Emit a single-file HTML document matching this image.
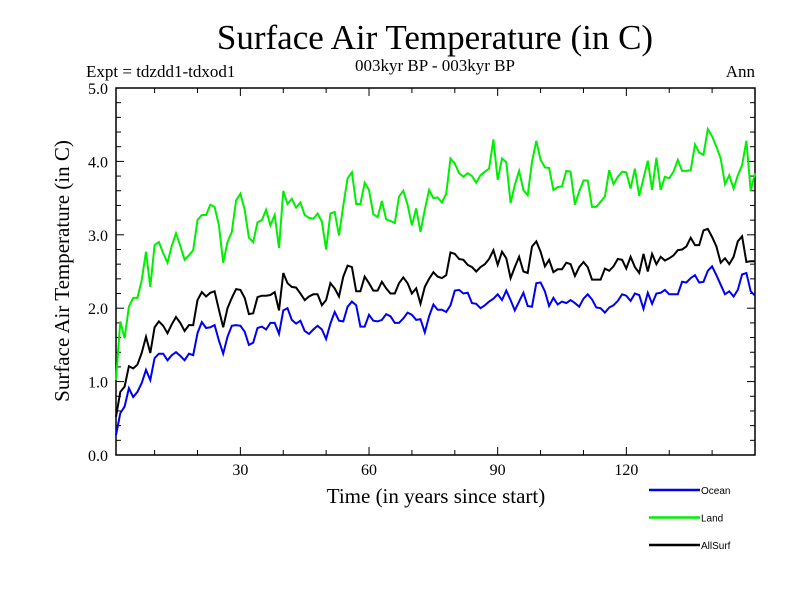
<!DOCTYPE html>
<html><head><meta charset="utf-8"><style>
body{margin:0;background:#fff}
svg{display:block}
.serif{font-family:"Liberation Serif",serif}
.sans{font-family:"Liberation Sans",sans-serif}
</style></head><body>
<svg id="chart" width="800" height="600" viewBox="0 0 800 600" xmlns="http://www.w3.org/2000/svg">
<rect width="800" height="600" fill="#fff"/>
<text class="serif" x="435" y="49" font-size="35" text-anchor="middle">Surface Air Temperature (in C)</text>
<text class="serif" x="435" y="71" font-size="17" text-anchor="middle">003kyr BP - 003kyr BP</text>
<text class="serif" x="86" y="77" font-size="17">Expt = tdzdd1-tdxod1</text>
<text class="serif" x="755" y="77" font-size="17" text-anchor="end">Ann</text>
<text class="serif" font-size="21" text-anchor="middle" transform="translate(69,271) rotate(-90)">Surface Air Temperature (in C)</text>
<text class="serif" x="436" y="503" font-size="21" text-anchor="middle">Time (in years since start)</text>
<g id="axes"></g>
<g id="series"></g>
<g id="legend"></g>
</svg>
<script>
const yTicks=[0,1,2,3,4,5];
const yTickLabels=["0.0","1.0","2.0","3.0","4.0","5.0"];
const xTicks=[30,60,90,120];
const xTickLabels=["30","60","90","120"];
const seriesNames=["Ocean","Land","AllSurf"];
const landValues=[1.02,1.82,1.59,2.02,2.14,2.14,2.38,2.77,2.29,2.86,2.90,2.75,2.62,2.85,3.02,2.85,2.66,2.72,2.79,3.20,3.27,3.27,3.41,3.38,3.13,2.62,2.90,3.04,3.47,3.56,3.34,2.96,2.90,3.17,3.20,3.34,3.13,3.27,2.82,
3.60,3.42,3.49,3.37,3.44,3.27,3.23,3.22,3.29,3.18,2.80,3.29,3.31,2.99,3.40,3.77,3.85,3.42,3.42,3.71,3.61,3.28,3.24,3.46,3.21,3.19,3.16,3.52,3.60,3.41,3.13,3.36,3.04,3.34,3.61,3.50,
3.51,3.44,3.56,4.04,3.97,3.84,3.79,3.84,3.80,3.71,3.81,3.86,3.90,4.30,3.75,4.04,3.99,3.43,3.68,3.87,3.61,3.54,3.99,4.28,4.02,3.92,3.91,3.61,3.65,3.66,3.87,3.86,3.41,3.59,3.74,3.74,3.38,
3.38,3.45,3.52,3.88,3.69,3.79,3.86,3.85,3.63,3.90,3.53,3.77,4.01,3.61,4.05,3.61,3.79,3.77,3.86,4.02,3.87,3.87,3.88,4.23,4.12,4.09,4.44,4.34,4.20,4.04,3.69,3.81,3.63,3.81,3.95,4.28,3.60,3.84];
const allSurfValues=[0.52,0.86,0.93,1.21,1.18,1.23,1.39,1.61,1.39,1.74,1.82,1.76,1.66,1.78,1.88,1.80,1.69,1.77,1.77,2.11,2.22,2.16,2.21,2.23,1.98,1.74,2.00,2.14,2.26,2.25,2.14,1.92,1.93,2.15,2.17,2.17,2.18,2.22,1.97,
2.48,2.34,2.29,2.28,2.20,2.11,2.16,2.19,2.19,2.04,2.11,2.34,2.27,2.16,2.43,2.58,2.56,2.23,2.23,2.43,2.34,2.24,2.24,2.36,2.27,2.20,2.20,2.34,2.42,2.34,2.20,2.27,2.06,2.29,2.40,2.49,
2.43,2.41,2.45,2.76,2.74,2.67,2.66,2.59,2.56,2.50,2.56,2.60,2.67,2.79,2.59,2.77,2.68,2.41,2.56,2.70,2.50,2.48,2.84,2.91,2.77,2.57,2.66,2.49,2.53,2.53,2.62,2.60,2.44,2.56,2.63,2.56,2.39,
2.39,2.39,2.54,2.51,2.57,2.67,2.66,2.54,2.70,2.56,2.48,2.74,2.50,2.74,2.60,2.70,2.65,2.68,2.72,2.79,2.80,2.84,2.96,2.86,2.86,3.06,3.08,2.97,2.84,2.62,2.68,2.60,2.70,2.91,2.98,2.63,2.64,2.64];
const oceanValues=[0.27,0.57,0.66,0.91,0.79,0.86,0.98,1.16,1.02,1.32,1.38,1.38,1.29,1.36,1.40,1.35,1.29,1.38,1.36,1.66,1.81,1.73,1.74,1.77,1.56,1.38,1.61,1.76,1.77,1.76,1.68,1.50,1.53,1.73,1.75,1.71,1.80,1.80,1.65,
1.97,2.00,1.84,1.79,1.83,1.69,1.65,1.71,1.76,1.71,1.58,1.79,1.95,1.83,1.82,2.02,2.09,2.04,1.75,1.75,1.91,1.83,1.82,1.84,1.92,1.89,1.80,1.80,1.86,1.94,1.91,1.84,1.85,1.67,1.89,2.05,1.98,
1.98,1.95,2.04,2.24,2.25,2.20,2.21,2.07,2.06,2.00,2.04,2.09,2.13,2.19,2.11,2.24,2.11,1.97,2.09,2.21,2.03,2.02,2.34,2.35,2.23,2.03,2.14,2.05,2.09,2.07,2.11,2.07,2.02,2.13,2.19,2.12,2.01,
2.00,1.94,2.01,2.04,2.10,2.19,2.17,2.10,2.20,2.18,1.99,2.21,2.06,2.20,2.21,2.25,2.19,2.19,2.19,2.36,2.35,2.41,2.45,2.35,2.36,2.51,2.57,2.45,2.32,2.19,2.23,2.16,2.25,2.46,2.48,2.23,2.17];

const NS="http://www.w3.org/2000/svg";
const L=116,R=755,T=88,B=455;
const X0=1,X1=150;
function xs(t){return L+(t-X0)/(X1-X0)*(R-L);}
function ys(v){return B-v/5*(B-T);}
function mk(tag,attrs,parent){const e=document.createElementNS(NS,tag);for(const k in attrs)e.setAttribute(k,attrs[k]);parent.appendChild(e);return e;}
const axes=document.getElementById('axes');
const frame=mk('rect',{x:L,y:T,width:R-L,height:B-T,fill:'none',stroke:'#000','stroke-width':1.5},axes);


for(let i=0;i<=25;i++){const v=i*0.2;const y=ys(v);const len=(i%5===0)?8:5;
 const t1=mk('line',{x1:L,x2:L+len,y1:y,y2:y,stroke:'#000'},axes);
 
 
 const t2=mk('line',{x1:R,x2:R-len,y1:y,y2:y,stroke:'#000'},axes);
 
 }
yTicks.forEach((v,i)=>{const tx=mk('text',{x:L-8,y:ys(v)+6,'font-size':16,'text-anchor':'end',class:'serif'},axes);tx.textContent=yTickLabels[i];
 
 });
for(let t=10;t<=150;t+=10){const x=xs(t);const len=(t%30===0)?8:5;
 const a=mk('line',{x1:x,x2:x,y1:B,y2:B-len,stroke:'#000'},axes);
 
 
 const b=mk('line',{x1:x,x2:x,y1:T,y2:T+len,stroke:'#000'},axes);
 
 }
xTicks.forEach((t,i)=>{const tx=mk('text',{x:xs(t),y:B+20,'font-size':16,'text-anchor':'middle',class:'serif'},axes);tx.textContent=xTickLabels[i];
 
 });
const ser=document.getElementById('series');
const datasets=[[landValues,'#00ee00','land-line'],[allSurfValues,'#000000','allsurf-line'],[oceanValues,'#0000ee','ocean-line']];
datasets.forEach(d=>{const pts=d[0].map((v,i)=>xs(i+1).toFixed(1)+','+ys(v).toFixed(1)).join(' ');
 const p=mk('polyline',{points:pts,fill:'none',stroke:d[1],'stroke-width':2,'stroke-linejoin':'miter'},ser);
 
 });
const leg=document.getElementById('legend');
const legColors=['#0000ee','#00ee00','#000000'];
seriesNames.forEach((n,i)=>{const y=490+i*27.5;
 const ln=mk('line',{x1:649,x2:700,y1:y,y2:y,stroke:legColors[i],'stroke-width':2.5},leg);
 
 
 const tx=mk('text',{x:701,y:y+4,'font-size':10,class:'sans'},leg);tx.textContent=n;
 
 });
</script>
</body></html>
